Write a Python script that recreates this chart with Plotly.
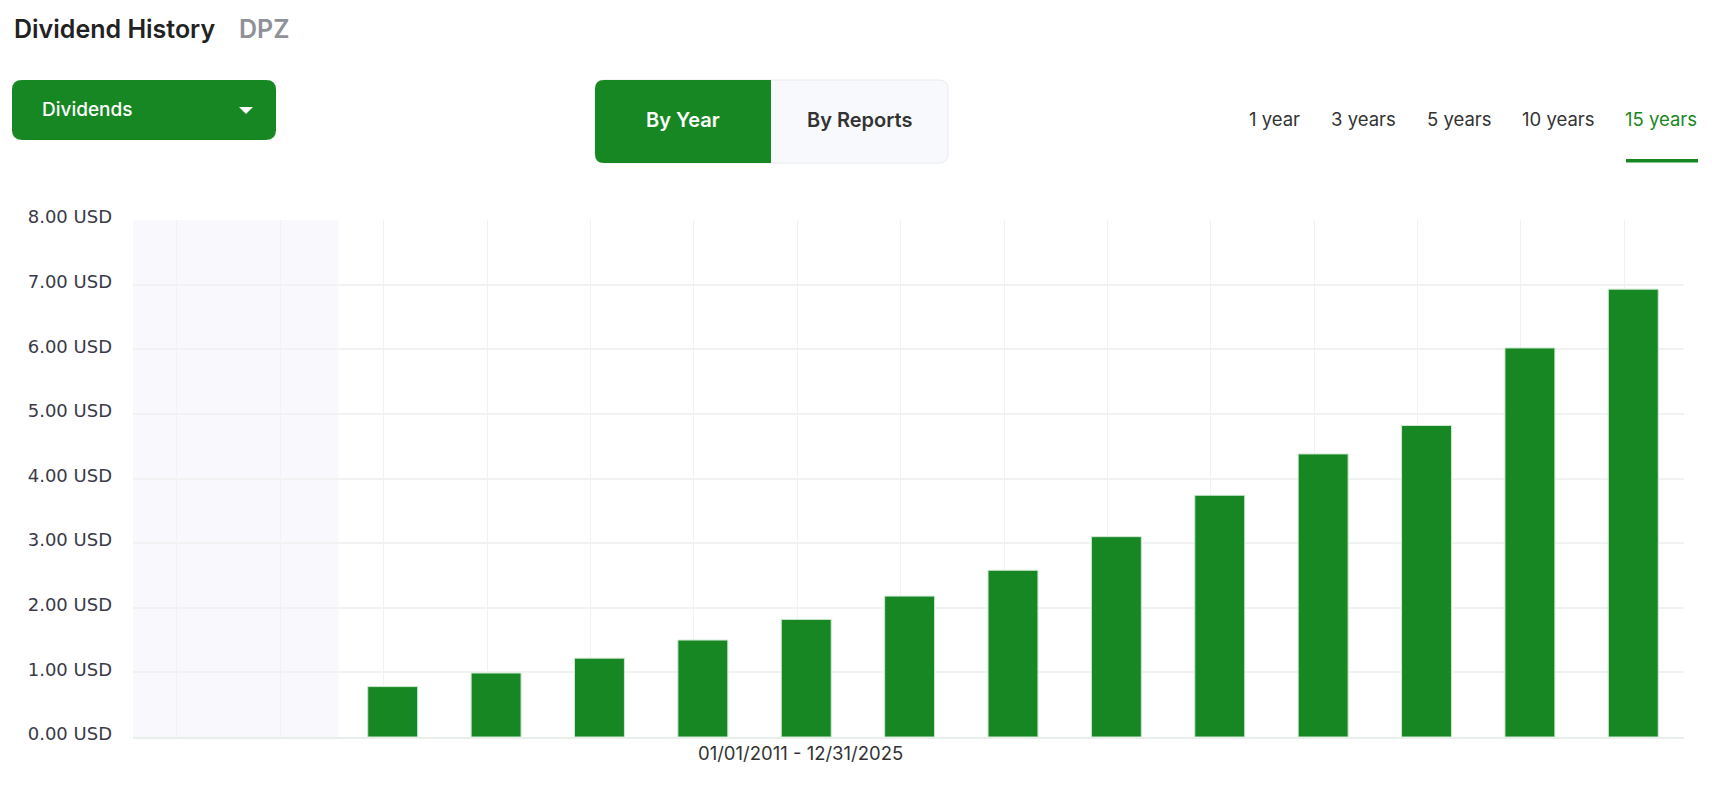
import plotly.graph_objects as go

# data
years = [2013, 2014, 2015, 2016, 2017, 2018, 2019, 2020, 2021, 2022, 2023, 2024, 2025]
dividends = [0.78, 0.99, 1.22, 1.50, 1.82, 2.18, 2.58, 3.10, 3.74, 4.38, 4.82, 6.02, 6.93]
grid_years = list(range(2011, 2026))
y_ticks = [0, 1, 2, 3, 4, 5, 6, 7, 8]
y_labels = ["%.2f USD" % v for v in y_ticks]
range_tabs = ["1 year", "3 years", "5 years", "10 years", "15 years"]
range_x = [1266, 1355, 1451, 1550, 1653]

GREEN = "#178723"
W, H = 1696, 771
L, R, T, B = 125, 20, 212, 42
PW, PH = W - L - R, H - T - B


def px(x):
    return (x - L) / PW


def py(y):
    return 1 - (y - T) / PH


def rounded(x0, y0, x1, y1, r, corners=(1, 1, 1, 1)):
    # corners: top-left, top-right, bottom-right, bottom-left
    tl, tr, br, bl = [r * c for c in corners]
    pts = []
    pts.append("M%f,%f" % (px(x0 + tl), py(y0)))
    pts.append("L%f,%f" % (px(x1 - tr), py(y0)))
    if tr:
        pts.append("Q%f,%f %f,%f" % (px(x1), py(y0), px(x1), py(y0 + tr)))
    pts.append("L%f,%f" % (px(x1), py(y1 - br)))
    if br:
        pts.append("Q%f,%f %f,%f" % (px(x1), py(y1), px(x1 - br), py(y1)))
    pts.append("L%f,%f" % (px(x0 + bl), py(y1)))
    if bl:
        pts.append("Q%f,%f %f,%f" % (px(x0), py(y1), px(x0), py(y1 - bl)))
    pts.append("L%f,%f" % (px(x0), py(y0 + tl)))
    if tl:
        pts.append("Q%f,%f %f,%f" % (px(x0), py(y0), px(x0 + tl), py(y0)))
    return " ".join(pts) + " Z"


fig = go.Figure()

fig.add_trace(go.Bar(
    x=years, y=dividends,
    width=0.483, offset=-0.155,
    marker=dict(color=GREEN, line=dict(color="#cfe8d2", width=1)),
    hovertemplate="%{x}: %{y:.2f} USD<extra></extra>",
))

shapes = []
# shaded (no data) period
shapes.append(dict(type="rect", xref="x", yref="paper", x0=2010.5745, x1=2012.563, y0=0, y1=1,
                   fillcolor="#f8f8fd", line=dict(width=0), layer="below"))
# dropdown
shapes.append(dict(type="path", xref="paper", yref="paper", path=rounded(4, 72, 268, 132, 10),
                   fillcolor=GREEN, line=dict(width=0)))
tri = "M%f,%f L%f,%f L%f,%f Z" % (px(231), py(99), px(245), py(99), px(238), py(106))
shapes.append(dict(type="path", xref="paper", yref="paper", path=tri, fillcolor="white", line=dict(width=0)))
# segmented control
shapes.append(dict(type="path", xref="paper", yref="paper", path=rounded(587, 72, 940, 155, 9),
                   fillcolor="#f8f9fc", line=dict(color="#e9ebef", width=1)))
shapes.append(dict(type="path", xref="paper", yref="paper", path=rounded(587, 72, 763, 155, 9, (1, 0, 0, 1)),
                   fillcolor=GREEN, line=dict(width=0)))
# active tab underline
shapes.append(dict(type="rect", xref="paper", yref="paper", x0=px(1618), x1=px(1690), y0=py(151), y1=py(154.5),
                   fillcolor=GREEN, line=dict(width=0)))

ui_font = "Inter"
annotations = [
    dict(text="Dividend History", x=px(4), y=py(21), xanchor="left", yanchor="middle",
         font=dict(family=ui_font, size=25, weight=600, color="#222222")),
    dict(text="DPZ", x=px(229), y=py(21), xanchor="left", yanchor="middle",
         font=dict(family=ui_font, size=25, weight=600, color="#8e9197")),
    dict(text="Dividends", x=px(32), y=py(102), xanchor="left", yanchor="middle",
         font=dict(family=ui_font, size=19, weight=500, color="white")),
    dict(text="By Year", x=px(675), y=py(112), xanchor="center", yanchor="middle",
         font=dict(family=ui_font, size=20, weight=600, color="white")),
    dict(text="By Reports", x=px(851), y=py(112), xanchor="center", yanchor="middle",
         font=dict(family=ui_font, size=20, weight=600, color="#333333")),
    dict(text="01/01/2011 - 12/31/2025", x=px(792), y=py(745), xanchor="center", yanchor="middle",
         font=dict(family=ui_font, size=18.5, color="#333333")),
]
for label, cx in zip(range_tabs, range_x):
    annotations.append(dict(text=label, x=px(cx), y=py(111), xanchor="center", yanchor="middle",
                            font=dict(family=ui_font, size=18.5,
                                      color=GREEN if label == "15 years" else "#333333")))
for a in annotations:
    a.update(xref="paper", yref="paper", showarrow=False)

fig.update_layout(
    width=W, height=H,
    margin=dict(l=L, r=R, t=T, b=B),
    paper_bgcolor="white", plot_bgcolor="white",
    showlegend=False,
    shapes=shapes,
    annotations=annotations,
    bargap=0.5,
    xaxis=dict(range=[2010.5745, 2025.577], tickvals=grid_years, showticklabels=False,
               showgrid=True, gridcolor="#f0f3f1", gridwidth=1, zeroline=False,
               showline=True, linecolor="#e8eee9", linewidth=2, fixedrange=True),
    yaxis=dict(range=[0, 8], tickvals=y_ticks, ticktext=y_labels, showgrid=True,
               gridcolor="#f0f3f1", gridwidth=2, zeroline=False, ticks="",
               ticklabelstandoff=20, ticklabelshift=-3,
               tickfont=dict(family="DejaVu Sans", size=18, color="#3a3a48"), fixedrange=True),
)

fig.write_html("out.html")
